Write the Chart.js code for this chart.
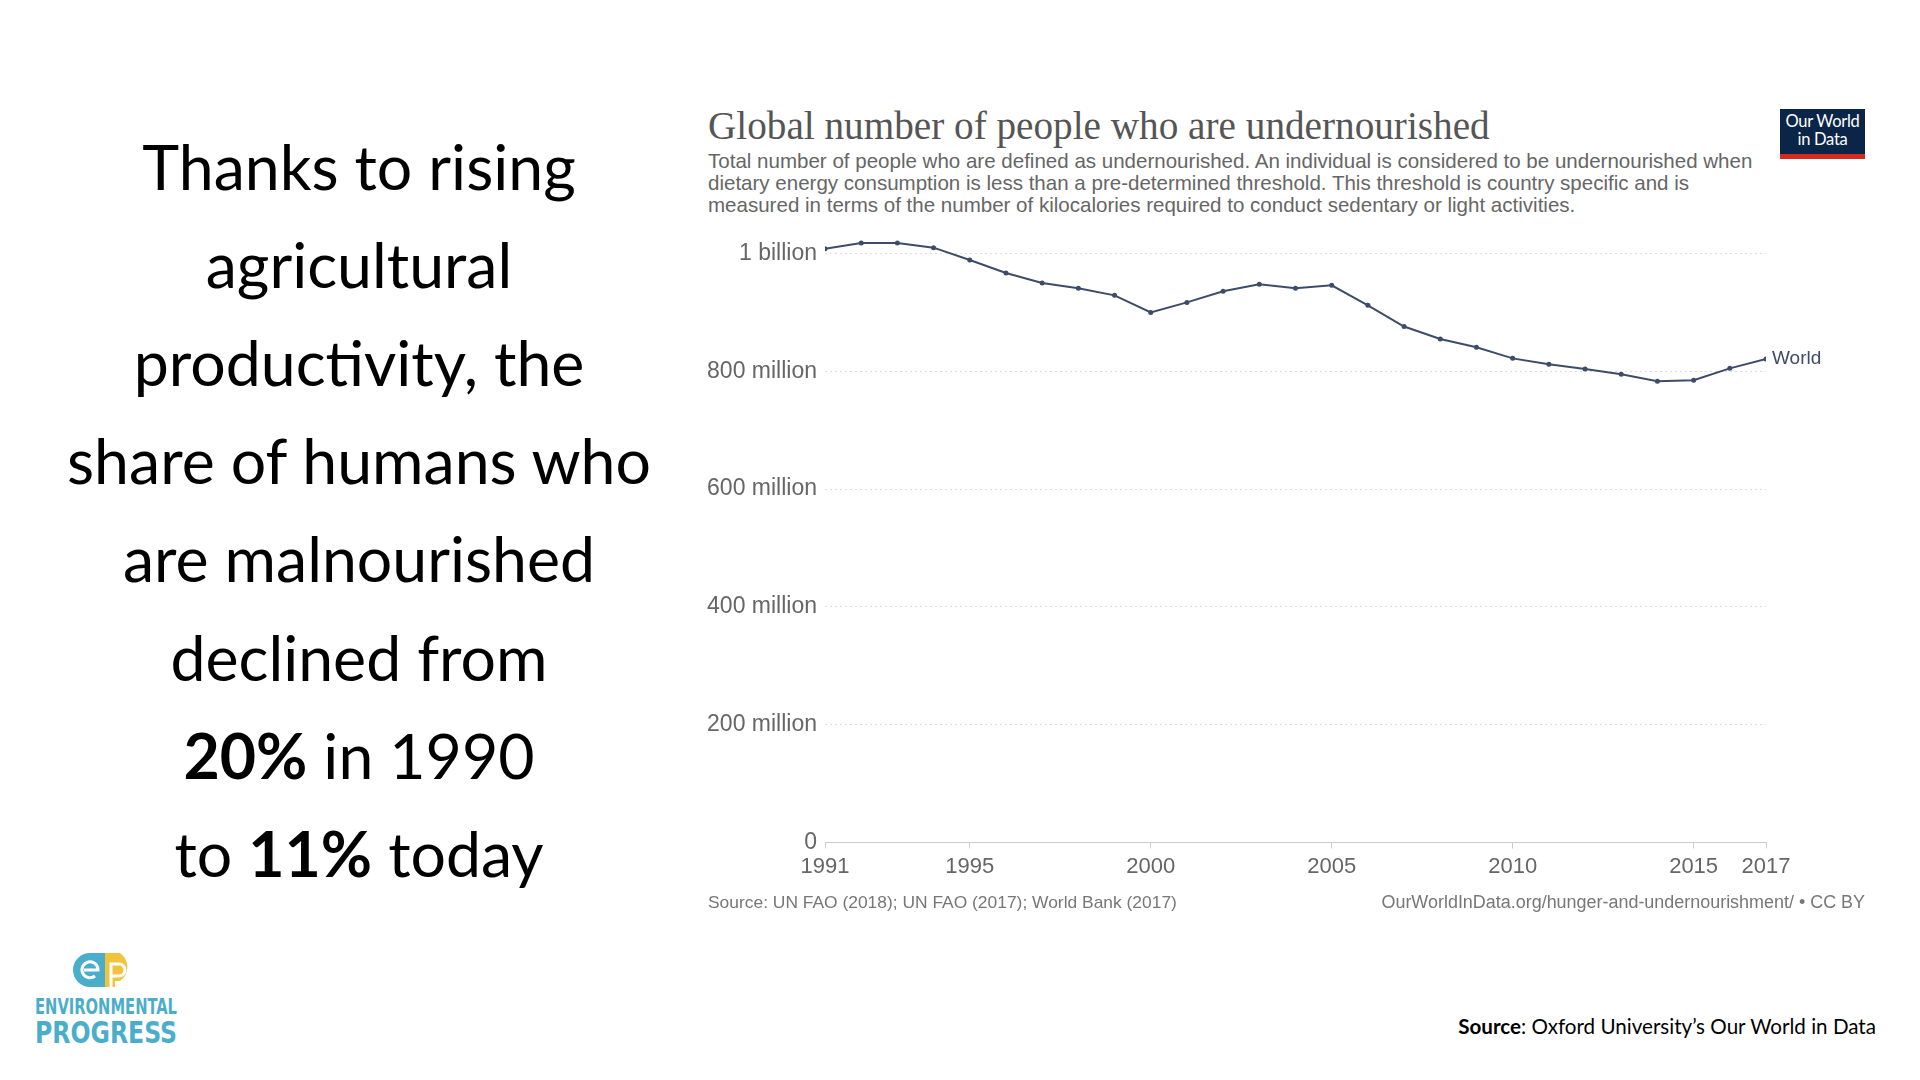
<!DOCTYPE html>
<html>
<head>
<meta charset="utf-8">
<script src="https://cdn.jsdelivr.net/npm/chart.js@4/dist/chart.umd.min.js"></script>
<style>
  html, body { margin: 0; padding: 0; background: #fff; }
  body { width: 1920px; height: 1080px; position: relative; overflow: hidden; }
  .abs { position: absolute; white-space: nowrap; line-height: 1; }
  .mid { transform: translateY(-50%); }
  .lead { font-family: Lato, "Open Sans", sans-serif; color: #000; font-size: 56px; left: 359px; transform: translate(-50%, -50%); }
  .lead b { font-weight: 700; }
  #title { font-family: "Liberation Serif", "DejaVu Serif", serif; color: #555; font-size: 34px; left: 708px; top: 126px; }
  .sub { font-family: "Liberation Sans", Arial, sans-serif; color: #666; font-size: 18px; left: 708px; }
  .foot { font-family: "Liberation Sans", Arial, sans-serif; color: #777; font-size: 17px; top: 903px; }
  #owid { position: absolute; left: 1780px; top: 109px; width: 85px; height: 50px; background: #0b2548;
          border-bottom: 5px solid #d42b21; box-sizing: border-box; color: #fff; text-align: center;
          font-family: Lato, "Liberation Sans", sans-serif; font-size: 16.5px; line-height: 18px; padding-top: 3px;
          letter-spacing: -0.3px; }
  #chartBox { position: absolute; left: 700px; top: 200px; width: 1180px; height: 700px; }
  #src { font-family: Lato, sans-serif; font-size: 21px; color: #000; top: 1026px; right: 44px; }
  .ep { font-family: "Liberation Sans Narrow", "DejaVu Sans Condensed", sans-serif; font-weight: 700; color: #4aaecb; left: 35px; transform-origin: left center; }
</style>
</head>
<body>

<div class="abs lead" style="top:166px">Thanks to rising</div>
<div class="abs lead" style="top:264px">agricultural</div>
<div class="abs lead" style="top:362px">productivity, the</div>
<div class="abs lead" id="longest" style="top:460px">share of humans who</div>
<div class="abs lead" style="top:558px">are malnourished</div>
<div class="abs lead" style="top:657px">declined from</div>
<div class="abs lead" style="top:755px"><b>20%</b> in 1990</div>
<div class="abs lead" style="top:853px">to <b>11%</b> today</div>

<div class="abs mid" id="title">Global number of people who are undernourished</div>
<div class="abs mid sub" id="sub1" style="top:161px">Total number of people who are defined as undernourished. An individual is considered to be undernourished when</div>
<div class="abs mid sub" id="sub2" style="top:183px">dietary energy consumption is less than a pre-determined threshold. This threshold is country specific and is</div>
<div class="abs mid sub" id="sub3" style="top:205px">measured in terms of the number of kilocalories required to conduct sedentary or light activities.</div>
<div id="owid">Our World<br>in Data</div>

<div id="chartBox"><canvas id="undernourishedChart" width="1180" height="700"></canvas></div>

<div class="abs mid foot" id="footL" style="left:708px">Source: UN FAO (2018); UN FAO (2017); World Bank (2017)</div>
<div class="abs mid foot" id="footR" style="right:55px">OurWorldInData.org/hunger-and-undernourishment/ • CC BY</div>

<svg style="position:absolute;left:73px;top:953px" width="64" height="34" viewBox="0 0 64 34">
  <path d="M17 0 H32 V34 H17 A17 17 0 0 1 17 0 Z" fill="#4aaecb"/>
  <path d="M32 0 H47 A17 17 0 0 1 47 28 H42 V34 H32 Z" fill="#f2c33c"/>
  <path d="M11 17 H25 A8 8 0 1 0 22 23" fill="none" stroke="#fff" stroke-width="3"/>
  <path d="M38 34 V11 H46 A6 6 0 0 1 46 23 H38" fill="none" stroke="#fff" stroke-width="3"/>
</svg>
<div class="abs mid ep" id="ep1" style="top:1007px;font-size:22px">ENVIRONMENTAL</div>
<div class="abs mid ep" id="ep2" style="top:1032px;font-size:31px">PROGRESS</div>

<div class="abs mid" id="src"><b>Source</b>: Oxford University’s Our World in Data</div>

<script>
const years = [1991, 1992, 1993, 1994, 1995, 1996, 1997, 1998, 1999, 2000, 2001, 2002, 2003, 2004,
  2005, 2006, 2007, 2008, 2009, 2010, 2011, 2012, 2013, 2014, 2015, 2016, 2017];
// millions of people
const undernourished = [1008, 1018, 1018, 1010, 989, 967, 950, 941, 929, 900, 917, 936, 948, 941,
  946, 912, 876, 855, 841, 822, 812, 804, 795, 783, 785, 805, 821];
const xTickYears = [1991, 1995, 2000, 2005, 2010, 2015, 2017];
const yTickValues = [0, 200, 400, 600, 800, 1000];
const yTickLabels = ["0", "200 million", "400 million", "600 million", "800 million", "1 billion"];
const seriesName = "World";

const lineColor = "#3e4c68";

function fitWidth(el, target) {
  const w = el.getBoundingClientRect().width;
  const fs = parseFloat(getComputedStyle(el).fontSize);
  el.style.fontSize = (fs * target / w) + "px";
  return fs * target / w;
}

function squeeze(el, target) {
  const w = el.getBoundingClientRect().width;
  el.style.transform = "translateY(-50%) scaleX(" + (target / w) + ")";
}

// text sizes from the picture
const leadSize = fitWidth(document.getElementById("longest"), 584);
document.querySelectorAll(".lead").forEach(el => el.style.fontSize = leadSize + "px");
fitWidth(document.getElementById("title"), 782);
const subSize = fitWidth(document.getElementById("sub1"), 1045);
document.getElementById("sub2").style.fontSize = subSize + "px";
document.getElementById("sub3").style.fontSize = subSize + "px";
fitWidth(document.getElementById("footL"), 469);
fitWidth(document.getElementById("footR"), 484);
fitWidth(document.getElementById("src"), 418);
squeeze(document.getElementById("ep1"), 142);
squeeze(document.getElementById("ep2"), 142);

const endLabel = {
  id: "endLabel",
  afterDatasetsDraw(chart) {
    const pts = chart.getDatasetMeta(0).data;
    const last = pts[pts.length - 1];
    const ctx = chart.ctx;
    ctx.save();
    ctx.font = "19px 'Liberation Sans', Arial, sans-serif";
    ctx.fillStyle = lineColor;
    ctx.textBaseline = "middle";
    ctx.fillText(seriesName, last.x + 6, last.y);
    ctx.restore();
  }
};

const ctx = document.getElementById("undernourishedChart").getContext("2d");

new Chart(ctx, {
  type: "line",
  data: {
    datasets: [{
      label: seriesName,
      data: years.map((y, i) => ({ x: y, y: undernourished[i] })),
      borderColor: lineColor,
      backgroundColor: lineColor,
      borderWidth: 2,
      pointRadius: 2.5,
      pointBackgroundColor: lineColor,
      pointBorderWidth: 0,
      tension: 0
    }]
  },
  options: {
    responsive: false,
    animation: false,
    layout: { padding: { left: 0, right: 114, top: 38.8, bottom: 17.5 } },
    plugins: { legend: { display: false }, tooltip: { enabled: false } },
    scales: {
      x: {
        type: "linear",
        min: 1991,
        max: 2017,
        afterBuildTicks: scale => { scale.ticks = xTickYears.map(v => ({ value: v })); },
        afterFit: scale => { scale.height = 40; },
        grid: { drawOnChartArea: false, drawTicks: true, tickLength: 6, color: "#ccc" },
        border: { display: true, color: "#ccc", width: 1 },
        ticks: {
          callback: v => String(v),
          color: "#666",
          padding: 5,
          maxRotation: 0,
          autoSkip: false,
          font: { family: "'Liberation Sans', Arial, sans-serif", size: 22 }
        }
      },
      y: {
        min: 0,
        max: 1025,
        afterBuildTicks: scale => { scale.ticks = yTickValues.map(v => ({ value: v })); },
        afterFit: scale => { scale.width = 125; },
        grid: {
          drawTicks: false,
          color: c => c.tick && c.tick.value === 0 ? "rgba(0,0,0,0)" : "#ddd",
          lineWidth: 1
        },
        border: { display: false, dash: [2, 3] },
        ticks: {
          callback: v => yTickLabels[yTickValues.indexOf(v)],
          color: "#666",
          padding: 8,
          font: { family: "'Liberation Sans', Arial, sans-serif", size: 23 }
        }
      }
    }
  },
  plugins: [endLabel]
});
</script>
</body>
</html>
